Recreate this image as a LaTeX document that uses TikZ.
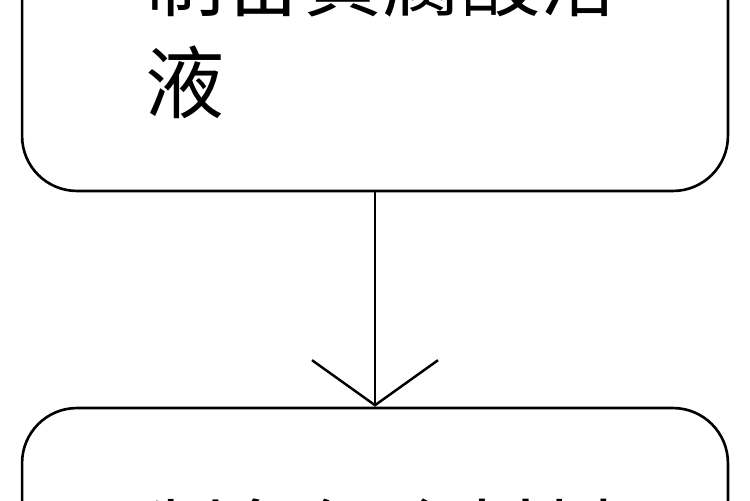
\documentclass[tikz,border=0pt]{standalone}
\usepackage{fontspec}
\newfontfamily\cjk{Noto Sans CJK SC}
\usetikzlibrary{arrows.meta}

\begin{document}
\begin{tikzpicture}[x=0.02cm,y=-0.02cm,
	box/.style={draw,line width=1.5pt,rounded corners=1.1cm,minimum width=14.12cm,minimum height=6cm,inner sep=0pt},
	steptext/.style={anchor=north west,inner sep=0pt,align=left,font=\cjk\fontsize{45}{58}\selectfont},
	flow/.style={line width=1.4pt,-{Straight Barb[length=0.9cm,width=2.52cm]}}]

	\useasboundingbox (0,0) rectangle (750,500);
	\clip (0,0) rectangle (750,500);

	% step 1
	\node[box] (solution) at (375,41) {};
	\node[steptext] (solutiontext) at (145,-57) {制备黄腐酸溶\\液};

	% step 2
	\node[box] (mixture) at (375,558) {};
	\node[steptext] (mixturetext) at (145,498) {制备复合材料};

	% arrow
	\draw[flow] (solution) -- (mixture);

\end{tikzpicture}
\end{document}
